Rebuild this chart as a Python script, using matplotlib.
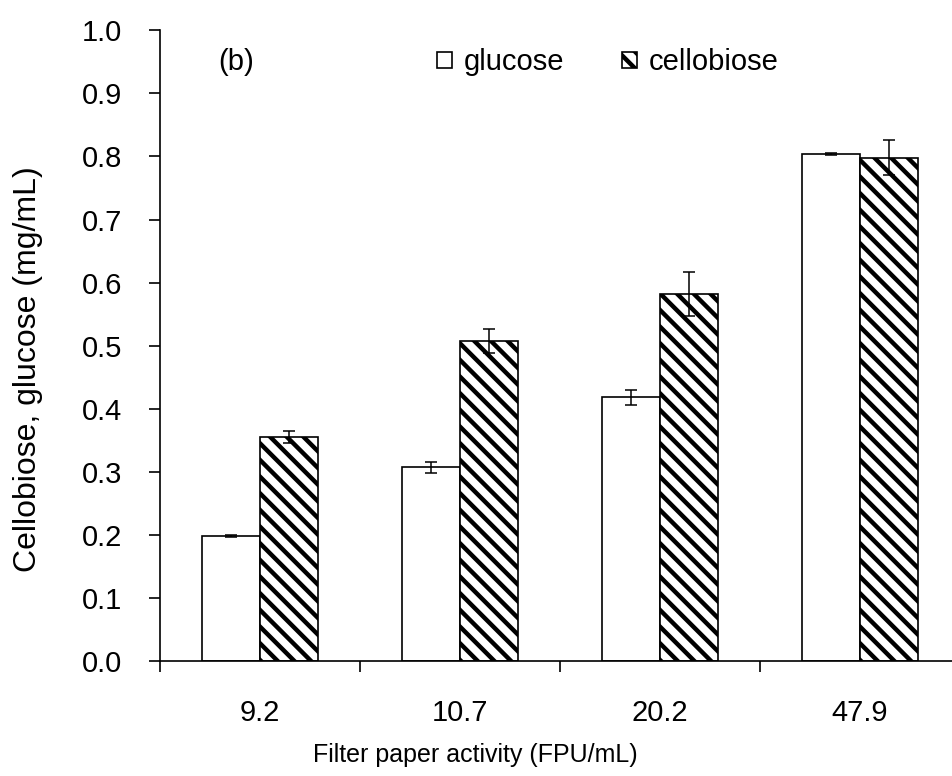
import matplotlib.pyplot as plt
import numpy as np

plt.rcParams['font.family'] = ['Liberation Sans', 'DejaVu Sans']
plt.rcParams['hatch.linewidth'] = 3.2

activity = ['9.2', '10.7', '20.2', '47.9']
glucose = [0.198, 0.307, 0.418, 0.804]
glucose_err = [0.002, 0.009, 0.012, 0.002]
cellobiose = [0.355, 0.507, 0.582, 0.798]
cellobiose_err = [0.010, 0.019, 0.035, 0.028]

fig = plt.figure(figsize=(9.52, 7.76), dpi=100)
ax = fig.add_axes([0.168, 0.148, 0.832, 0.813])

x = np.arange(len(activity))
w = 0.29
ekw = dict(elinewidth=1.1, capthick=1.1)
ax.bar(x - w / 2, glucose, w, color='white', edgecolor='black', linewidth=1.2,
       yerr=glucose_err, capsize=4.5, error_kw=ekw, label='glucose', zorder=2)
ax.bar(x + w / 2, cellobiose, w, color='white', edgecolor='black', linewidth=1.2,
       hatch='\\\\', yerr=cellobiose_err, capsize=4.5, error_kw=ekw,
       label='cellobiose', zorder=2)

ax.set_xlim(-0.5, 3.46)
ax.set_ylim(0, 1.0)
yt = np.arange(0, 1.01, 0.1)
ax.set_yticks(yt)
ax.set_yticklabels([f'{v:.1f}' for v in yt])
ax.set_xticks(x)
ax.set_xticklabels(activity)
ax.set_xticks(np.arange(-0.5, 3.0, 1.0), minor=True)
ax.tick_params(axis='x', which='major', length=0, pad=27, labelsize=21)
ax.tick_params(axis='x', which='minor', length=8, width=1.2, direction='out')
ax.tick_params(axis='y', length=8, width=1.2, direction='out', labelsize=21, pad=19)

for side in ['top', 'right']:
    ax.spines[side].set_visible(False)
for side in ['left', 'bottom']:
    ax.spines[side].set_linewidth(1.2)

ax.set_xlabel('Filter paper activity (FPU/mL)', fontsize=18, va='baseline')
ax.xaxis.set_label_coords(0.398, -0.160)
ax.set_ylabel('Cellobiose, glucose (mg/mL)', fontsize=23, va='center')
ax.yaxis.set_label_coords(-0.167, 0.463)

ax.text(0.073, 0.949, '(b)', transform=ax.transAxes, fontsize=21, va='center')
ax.legend(loc='center left', bbox_to_anchor=(0.35, 0.949), ncol=2, frameon=False,
          fontsize=21, handlelength=0.5, handleheight=0.5, handletextpad=0.4,
          columnspacing=2.0, borderpad=0, borderaxespad=0)

fig.savefig('out.png', dpi=100)
